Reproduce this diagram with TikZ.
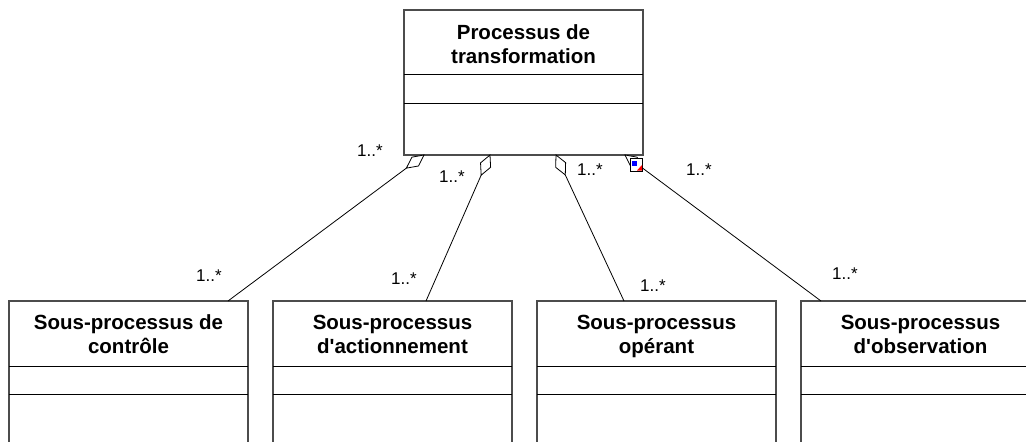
\documentclass[tikz,border=0pt]{standalone}
\usepackage{fontspec}
\setmainfont{Liberation Sans}[Ligatures=TeXOff]
\usetikzlibrary{calc}
\newcommand{\lnph}{\vphantom{\'Ey}}
\begin{document}
\begin{tikzpicture}[x=1pt,y=-1pt,
  box/.style={draw=black!70,line width=1.1pt,fill=white,minimum width=239pt,minimum height=170pt,anchor=north west,inner sep=0pt,outer sep=0pt},
  sep/.style={draw=black,line width=0.8pt},
  title/.style={font=\fontsize{20.5}{24}\selectfont\bfseries,align=center,anchor=center,inner sep=0pt},
  mult/.style={font=\fontsize{17}{19}\selectfont,inner sep=0pt},
  assoc/.style={draw=black,line width=0.8pt},
  ]
\useasboundingbox (0,0) rectangle (1026,442);
\clip (0,0) rectangle (1026,442);

% top class
\node[box,minimum height=145pt] (top) at (404,10) {};
\draw[sep] ($(top.north west)+(0,64)$) -- ($(top.north east)+(0,64)$);
\draw[sep] ($(top.north west)+(0,93)$) -- ($(top.north east)+(0,93)$);
\node[title] (toptitle) at (523.5,45) {\lnph Processus de\\\lnph transformation};

% bottom classes
\foreach \n/\x/\txt in {b1/9/{\lnph Sous-processus de\\\lnph contr\^ole},
                        b2/273/{\lnph Sous-processus\\\lnph d'actionnement},
                        b3/537/{\lnph Sous-processus\\\lnph op\'erant},
                        b4/801/{\lnph Sous-processus\\\lnph d'observation}} {
  \node[box] (\n) at (\x,301) {};
  \draw[sep] ($(\n.north west)+(0,65)$) -- ($(\n.north east)+(0,65)$);
  \draw[sep] ($(\n.north west)+(0,93)$) -- ($(\n.north east)+(0,93)$);
  \node[title] (\n title) at ($(\n.north)+(0,34)$) {\txt};
}

% connector end points
\coordinate (t1) at (424,155);
\coordinate (t2) at (490,155);
\coordinate (t3) at (556,155);
\coordinate (t4) at (625,155);
\coordinate (e1) at (228,301);
\coordinate (e2) at (426,301);
\coordinate (e3) at (624,301);
\coordinate (e4) at (821,301);

% aggregations
\foreach \t/\b in {t1/e1,t2/e2,t3/e3,t4/e4} {
  \coordinate (m\t) at ($(\t)!11pt!(\b)$);
  \coordinate (f\t) at ($(\t)!22pt!(\b)$);
  \coordinate (l\t) at ($(m\t)!5.5pt!90:(\b)$);
  \coordinate (r\t) at ($(m\t)!5.5pt!-90:(\b)$);
  \draw[assoc,fill=white] (\t) -- (l\t) -- (f\t) -- (r\t) -- cycle;
  \draw[assoc] (f\t) -- (\b);
}

% selection marker
\node[draw=black,line width=1.3pt,fill=white,minimum size=12.5pt,inner sep=0pt] (sel) at (636.5,165) {};
\fill[blue] (632,160.5) rectangle (637,165.5);
\fill[red] (637,170.5) -- (642,170.5) -- (642,165) -- cycle;

% multiplicities
\node[mult] (m1t) at (370,151) {1..*};
\node[mult] (m2t) at (452,177) {1..*};
\node[mult] (m3t) at (590,170) {1..*};
\node[mult] (m4t) at (699,170) {1..*};
\node[mult] (m1b) at (209,276) {1..*};
\node[mult] (m2b) at (404,279) {1..*};
\node[mult] (m3b) at (653,286) {1..*};
\node[mult] (m4b) at (845,274) {1..*};
\end{tikzpicture}
\end{document}
